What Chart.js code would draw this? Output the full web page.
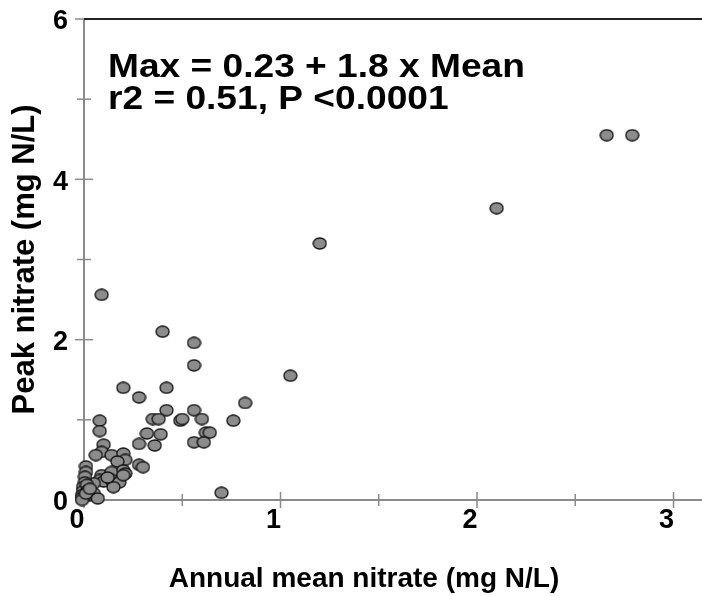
<!DOCTYPE html>
<html>
<head>
<meta charset="utf-8">
<script src="https://cdn.jsdelivr.net/npm/chart.js@4.4.0/dist/chart.umd.min.js"></script>
<style>
  html, body { margin: 0; padding: 0; background: #fff; }
  #wrap { width: 702px; height: 596px; }
</style>
</head>
<body>
<div id="wrap"><canvas id="chart" width="702" height="596"></canvas></div>
<script>
// Annual mean nitrate (mg N/L), one value per site
const meanNitrate = [
    2.66, 2.79, 2.10, 1.20, 1.05, 0.82, 0.76, 0.70, 0.09, 0.40,
    0.56, 0.56, 0.20, 0.42, 0.28, 0.42, 0.56, 0.35, 0.38, 0.49,
    0.50, 0.60, 0.08, 0.08, 0.32, 0.39, 0.62, 0.64, 0.28, 0.36,
    0.56, 0.61, 0.10, 0.09, 0.06, 0.14, 0.20, 0.21, 0.17, 0.28,
    0.30, 0.01, 0.01, 0.09, 0.14, 0.20, 0.21, 0.08, 0.10, 0.14,
    0.15, 0.05, 0.03, 0.05, 0.07, 0.005, 0.005, -0.005, -0.005, -0.01,
    -0.01, -0.01, 0.015, 0.02, 0.01, 0.18, 0.15, 0.20, 0.12, 0.03
];
// Peak nitrate (mg N/L), same order
const peakNitrate = [
    4.55, 4.55, 3.64, 3.20, 1.55, 1.21, 0.99, 0.09, 2.56, 2.10,
    1.96, 1.68, 1.40, 1.40, 1.28, 1.12, 1.12, 1.01, 1.01, 0.99,
    1.01, 1.01, 0.99, 0.86, 0.83, 0.82, 0.84, 0.84, 0.70, 0.68,
    0.72, 0.72, 0.69, 0.60, 0.56, 0.56, 0.58, 0.50, 0.48, 0.44,
    0.41, 0.42, 0.35, 0.31, 0.35, 0.37, 0.33, 0.25, 0.23, 0.25,
    0.21, 0.21, 0.06, 0.08, 0.02, 0.29, 0.22, 0.16, 0.11, 0.06,
    0.03, 0.00, 0.19, 0.12, 0.08, 0.22, 0.16, 0.31, 0.28, 0.14
];
const fitLines = ['Max = 0.23 + 1.8 x Mean', 'r2 = 0.51, P <0.0001'];
const xTitle = 'Annual mean nitrate (mg N/L)';
const yTitle = 'Peak nitrate (mg N/L)';

const FONT = '"Liberation Sans", Arial, sans-serif';

// grey ellipse marker
function makeMarker() {
    const c = document.createElement('canvas');
    c.width = 15;
    c.height = 13;
    const g = c.getContext('2d');
    g.beginPath();
    g.ellipse(7.5, 6.5, 6.5, 5.5, 0, 0, Math.PI * 2);
    g.fillStyle = '#8c8c8c';
    g.fill();
    g.lineWidth = 1.3;
    g.strokeStyle = '#111';
    g.stroke();
    return c;
}

// no overhang padding, so the plot box sits where the layout says
function noPad(s) {
    s.paddingTop = 0;
    s.paddingBottom = 0;
    s.paddingLeft = 0;
    s.paddingRight = 0;
}

// axes, cross ticks and top frame drawn under the points
const frame = {
    id: 'frame',
    beforeDatasetsDraw(chart) {
        const ctx = chart.ctx;
        const a = chart.chartArea;
        const xs = chart.scales.x, ys = chart.scales.y;
        ctx.save();
        ctx.lineCap = 'butt';
        ctx.strokeStyle = '#8a8a8a';
        ctx.lineWidth = 1.5;
        ys.ticks.forEach(t => {
            const y = ys.getPixelForValue(t.value);
            const h = t.value % 2 === 0 ? 9 : 7;
            ctx.beginPath();
            ctx.moveTo(a.left - h, y);
            ctx.lineTo(a.left + h, y);
            ctx.stroke();
        });
        xs.ticks.forEach(t => {
            const x = xs.getPixelForValue(t.value);
            const h = Number.isInteger(t.value) ? 8 : 6;
            ctx.beginPath();
            ctx.moveTo(x, a.bottom - h);
            ctx.lineTo(x, a.bottom + h);
            ctx.stroke();
        });
        ctx.lineWidth = 2;
        ctx.beginPath();
        ctx.moveTo(a.left, a.top);
        ctx.lineTo(a.left, a.bottom);
        ctx.lineTo(a.right, a.bottom);
        ctx.stroke();
        ctx.strokeStyle = '#222';
        ctx.beginPath();
        ctx.moveTo(a.left, a.top);
        ctx.lineTo(a.right, a.top);
        ctx.stroke();
        ctx.restore();
    },
    afterDraw(chart) {
        const ctx = chart.ctx;
        ctx.save();
        ctx.fillStyle = '#000';
        ctx.textBaseline = 'alphabetic';
        ctx.textAlign = 'left';
        ctx.font = 'bold 33px ' + FONT;
        fitLines.forEach((line, i) => {
            ctx.save();
            ctx.translate(108, 77 + i * 32);
            ctx.scale(1.125, 1);
            ctx.fillText(line, 0, 0);
            ctx.restore();
        });
        ctx.font = 'bold 28px ' + FONT;
        ctx.textAlign = 'center';
        ctx.fillText(xTitle, 364, 587);
        ctx.restore();
    }
};

new Chart(document.getElementById('chart'), {
    type: 'scatter',
    data: {
        datasets: [{
            data: meanNitrate.map((m, i) => ({ x: m, y: peakNitrate[i] })),
            pointStyle: makeMarker(),
            pointRadius: 6,
            clip: false
        }]
    },
    options: {
        responsive: false,
        animation: false,
        layout: { autoPadding: false, padding: { top: 19, right: 0, left: 0, bottom: 0 } },
        plugins: {
            legend: { display: false },
            tooltip: { enabled: false }
        },
        scales: {
            x: {
                type: 'linear',
                min: 0,
                max: 3.145,
                afterFit: s => { s.height = 96; noPad(s); },
                grid: { display: false, drawTicks: false },
                border: { display: false },
                ticks: {
                    stepSize: 0.5,
                    includeBounds: false,
                    autoSkip: false,
                    maxRotation: 0,
                    labelOffset: -7,
                    padding: 4,
                    color: '#000',
                    font: { family: FONT, size: 27, weight: 'bold' },
                    callback: v => Number.isInteger(v) ? v : ''
                }
            },
            y: {
                type: 'linear',
                min: 0,
                max: 6,
                afterFit: s => { s.width = 84; noPad(s); },
                grid: { display: false, drawTicks: false },
                border: { display: false },
                ticks: {
                    stepSize: 1,
                    autoSkip: false,
                    labelOffset: 3,
                    padding: 16,
                    color: '#000',
                    font: { family: FONT, size: 27, weight: 'bold' },
                    callback: v => v % 2 === 0 ? v : ''
                },
                title: {
                    display: true,
                    text: yTitle,
                    color: '#000',
                    padding: { top: 7, bottom: 0 },
                    font: { family: FONT, size: 31, weight: 'bold' }
                }
            }
        }
    },
    plugins: [frame]
});
</script>
</body>
</html>
